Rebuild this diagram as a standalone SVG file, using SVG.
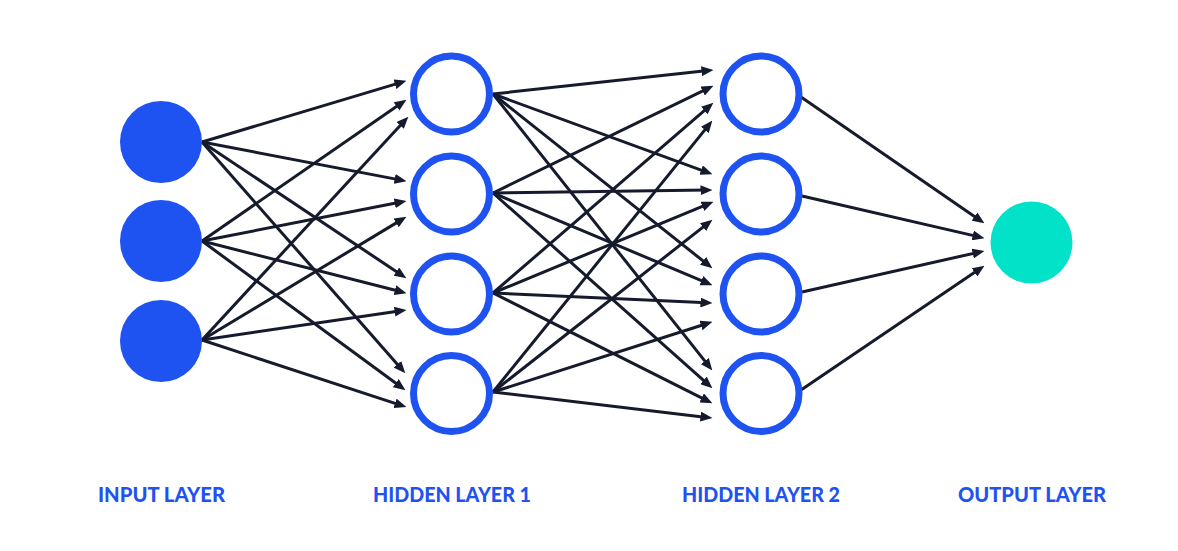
<svg xmlns="http://www.w3.org/2000/svg" width="1178" height="551" viewBox="0 0 1178 551">
  <style>
    .edge { stroke: #151b2d; stroke-width: 3; fill: none; marker-end: url(#arrow); }
    .input { fill: #1f53f1; }
    .hidden { fill: #ffffff; stroke: #1f53f1; stroke-width: 7; }
    .output { fill: #02e2c9; }
    .label { font-family: "Lato", "Open Sans", "Liberation Sans", sans-serif; font-weight: 900; font-size: 21px; fill: #1f53f1; text-anchor: middle; }
  </style>
  <defs>
    <marker id="arrow" markerUnits="userSpaceOnUse" viewBox="0 0 12 10" refX="6.5" refY="5" markerWidth="12" markerHeight="10" orient="auto">
      <path d="M0,0 L12,5 L0,10 z" fill="#151b2d"/>
    </marker>
  </defs>
  <rect width="1178" height="551" fill="#ffffff"/>

  <g id="connectors">
    <!-- input -> hidden 1 -->
    <line class="edge" x1="202" y1="142" x2="401.2" y2="82.4"/>
    <line class="edge" x1="202" y1="142" x2="401.1" y2="180.1"/>
    <line class="edge" x1="202" y1="142" x2="401.8" y2="275.2"/>
    <line class="edge" x1="202" y1="142" x2="401.7" y2="369.2"/>
    <line class="edge" x1="202" y1="241" x2="401.9" y2="102.8"/>
    <line class="edge" x1="202" y1="241" x2="401.1" y2="202.0"/>
    <line class="edge" x1="202" y1="241" x2="401.2" y2="291.8"/>
    <line class="edge" x1="202" y1="241" x2="401.0" y2="387.0"/>
    <line class="edge" x1="202" y1="340" x2="404.6" y2="120.7"/>
    <line class="edge" x1="202" y1="340" x2="401.7" y2="219.6"/>
    <line class="edge" x1="202" y1="340" x2="401.1" y2="310.7"/>
    <line class="edge" x1="202" y1="340" x2="401.2" y2="405.4"/>
    <!-- hidden 1 -> hidden 2 -->
    <line class="edge" x1="493" y1="94" x2="708.0" y2="70.5"/>
    <line class="edge" x1="493" y1="94" x2="707.3" y2="172.3"/>
    <line class="edge" x1="493" y1="94" x2="708.1" y2="264.9"/>
    <line class="edge" x1="493" y1="94" x2="708.9" y2="366.1"/>
    <line class="edge" x1="493" y1="193" x2="708.5" y2="88.2"/>
    <line class="edge" x1="493" y1="193" x2="707.0" y2="190.1"/>
    <line class="edge" x1="493" y1="193" x2="707.4" y2="283.1"/>
    <line class="edge" x1="493" y1="193" x2="708.3" y2="384.7"/>
    <line class="edge" x1="493" y1="293" x2="709.2" y2="106.3"/>
    <line class="edge" x1="493" y1="293" x2="708.4" y2="203.9"/>
    <line class="edge" x1="493" y1="293" x2="707.0" y2="302.8"/>
    <line class="edge" x1="493" y1="293" x2="707.5" y2="400.8"/>
    <line class="edge" x1="493" y1="392" x2="708.9" y2="124.9"/>
    <line class="edge" x1="493" y1="392" x2="708.1" y2="223.1"/>
    <line class="edge" x1="493" y1="392" x2="707.2" y2="323.5"/>
    <line class="edge" x1="493" y1="392" x2="707.0" y2="417.4"/>
    <!-- hidden 2 -> output -->
    <line class="edge" x1="801" y1="97" x2="979.9" y2="220.2"/>
    <line class="edge" x1="802" y1="196" x2="979.1" y2="236.9"/>
    <line class="edge" x1="802" y1="292" x2="979.1" y2="252.1"/>
    <line class="edge" x1="801" y1="390" x2="979.9" y2="268.8"/>
  </g>

  <g id="input-1"><circle class="input" cx="161" cy="142" r="41"/></g>
  <g id="input-2"><circle class="input" cx="161" cy="241" r="41"/></g>
  <g id="input-3"><circle class="input" cx="161" cy="341" r="41"/></g>

  <g id="hidden1-1"><circle class="hidden" cx="451.5" cy="94" r="38"/></g>
  <g id="hidden1-2"><circle class="hidden" cx="451.5" cy="194" r="38"/></g>
  <g id="hidden1-3"><circle class="hidden" cx="451.5" cy="294" r="38"/></g>
  <g id="hidden1-4"><circle class="hidden" cx="451.5" cy="393.5" r="38"/></g>

  <g id="hidden2-1"><circle class="hidden" cx="761" cy="94" r="38"/></g>
  <g id="hidden2-2"><circle class="hidden" cx="761" cy="194" r="38"/></g>
  <g id="hidden2-3"><circle class="hidden" cx="761" cy="294" r="38"/></g>
  <g id="hidden2-4"><circle class="hidden" cx="761" cy="393.5" r="38"/></g>

  <g id="output-1"><circle class="output" cx="1031.5" cy="242.5" r="41"/></g>

  <g id="labels">
    <text class="label" x="161.5" y="502" textLength="127" lengthAdjust="spacingAndGlyphs">INPUT LAYER</text>
    <text class="label" x="452" y="502" textLength="158" lengthAdjust="spacingAndGlyphs">HIDDEN LAYER 1</text>
    <text class="label" x="761" y="502" textLength="158" lengthAdjust="spacingAndGlyphs">HIDDEN LAYER 2</text>
    <text class="label" x="1032" y="502" textLength="148" lengthAdjust="spacingAndGlyphs">OUTPUT LAYER</text>
  </g>
</svg>
